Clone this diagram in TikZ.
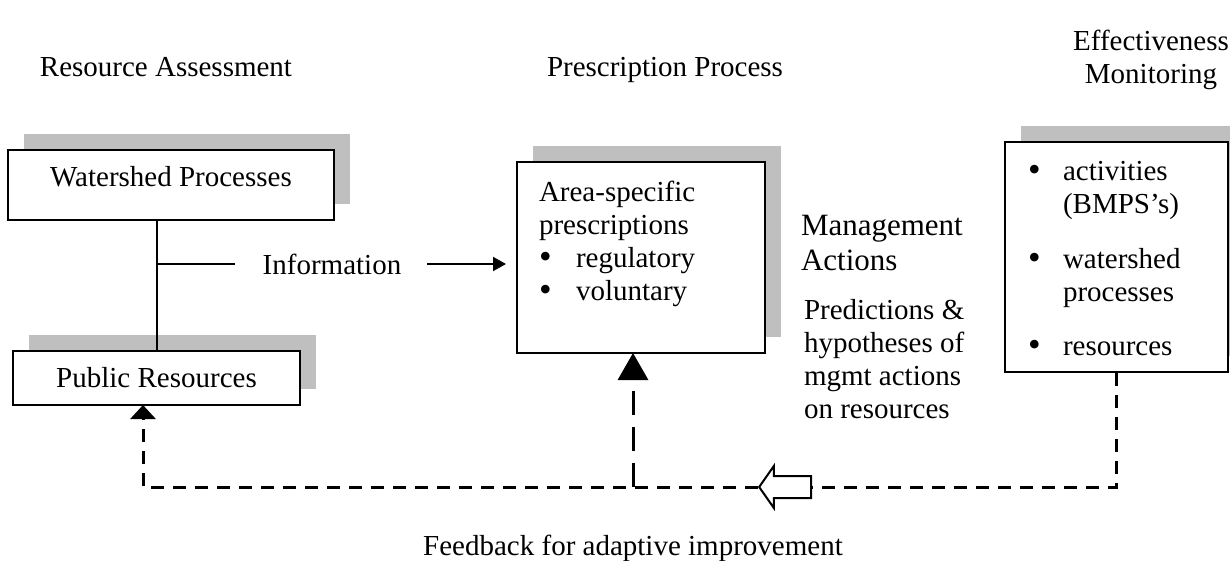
\documentclass[tikz,border=0pt]{standalone}
\usepackage{fontspec}
\setmainfont{Liberation Serif}
\usetikzlibrary{arrows.meta,shadows,shapes.arrows}
\newcommand{\bulitem}[1]{\makebox[#1][l]{\raisebox{-1pt}{\fontsize{36}{33}\selectfont\textbullet}}}

\begin{document}
\begin{tikzpicture}[x=1pt,y=-1pt,line width=2pt,
    every node/.style={font=\fontsize{29}{33}\selectfont},
    txt node/.style={inner sep=0pt,align=left},
    box node/.style={rectangle,draw=black,fill=white,line width=2pt,inner sep=0pt,
        drop shadow={shadow xshift=16pt,shadow yshift=16pt,fill=black!25,opacity=1}},
    feedback/.style={line width=3pt,dash pattern=on 13pt off 9pt}]
    \useasboundingbox (0,0) rectangle (1230,561);

    \node[anchor=base] (ra) at (166,77) {Resource Assessment};
    \node[anchor=base] (pp) at (665,77) {Prescription Process};
    \node[align=center] (em) at (1151,60) {Effectiveness\\Monitoring};

    \node[box node,minimum width=326pt,minimum height=70pt,text depth=18pt] (wp) at (171,185) {Watershed Processes};
    \node[box node,minimum width=287pt,minimum height=54pt] (pr) at (156.5,378) {Public Resources};
    \node[box node,minimum width=248pt,minimum height=191pt] (ap) at (641,257.5) {};
    \node[txt node,anchor=north west] (aptxt) at (538,180) {Area-specific\\prescriptions\\
        \bulitem{37pt}regulatory\\\bulitem{37pt}voluntary};
    \node[box node,minimum width=223pt,minimum height=230pt] (mo) at (1116.5,257) {};
    \node[txt node,anchor=north west] (motxt) at (1027,160) {\bulitem{35pt}activities\\
        \hspace*{35pt}(BMPS’s)\\[22pt]
        \bulitem{35pt}watershed\\
        \hspace*{35pt}processes\\[21pt]
        \bulitem{35pt}resources};

    \node[txt node] (info) at (332,264) {Information};
    \node[txt node,font=\fontsize{31}{35}\selectfont,anchor=north west] (ma) at (800,214) {Management\\Actions};
    \node[txt node,anchor=north west] (ph) at (803,298) {Predictions \&\\hypotheses of\\mgmt actions\\on resources};
    \node (fbk) at (633,548) {Feedback for adaptive improvement};

    \node[single arrow,draw,fill=white,line width=2pt,shape border rotate=180,minimum height=52pt,
        inner xsep=0pt,inner ysep=10pt,single arrow head extend=10pt,single arrow tip angle=110] (harrow) at (789,487) {};
    \coordinate (prin) at (143,405);
    \coordinate (apin) at (633,353);

    \draw (pr.north) -- (pr.north |- wp.south);
    \draw[shorten >=27pt] (pr.north |- info) -- (info.west);
    \draw[-{Triangle[length=13pt,width=14pt]},shorten <=25pt,shorten >=10pt] (info.east) -- (info.east -| ap.west);

    \draw[feedback] (mo.south) |- (harrow.tail);
    \draw[feedback,-{Triangle[length=14pt,width=25pt]}] (harrow.tip) -| (prin);
    \draw[feedback,dash pattern=on 24pt off 12pt,-{Triangle[length=27pt,width=30pt]}] (apin |- harrow.tip) -- (apin);
\end{tikzpicture}
\end{document}
